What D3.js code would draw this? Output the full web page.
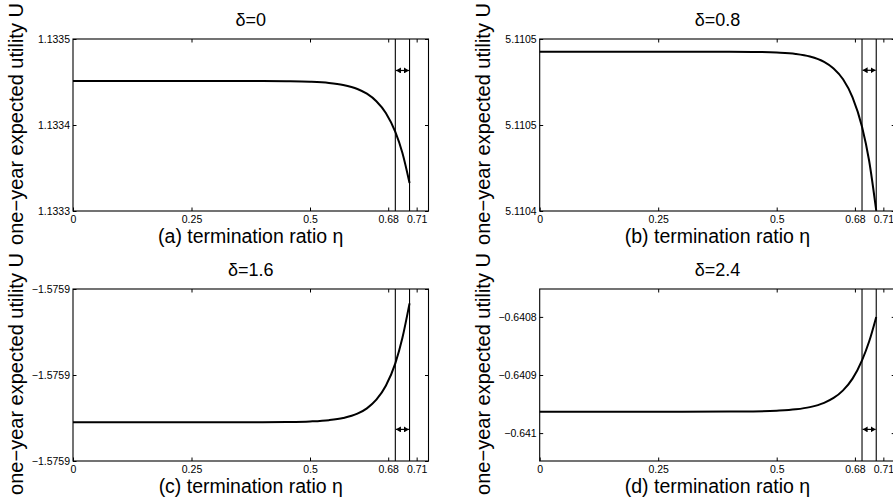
<!DOCTYPE html>
<html>
<head>
<meta charset="utf-8">
<script src="https://cdn.jsdelivr.net/npm/d3@7"></script>
<style>
  body { margin: 0; background: #fff; }
  svg { display: block; font-family: "Liberation Sans", Arial, Helvetica, sans-serif; }
</style>
</head>
<body>
<div id="chart"></div>
<script>
// termination ratio samples (shared by the four panels)
const eta = [0, 0.1, 0.2, 0.3, 0.4, 0.45, 0.5, 0.54, 0.57, 0.6, 0.62, 0.64, 0.66, 0.68, 0.695, 0.71]

// one-year expected utility
const utilityA = [1.1334512, 1.1334512, 1.1334512, 1.1334512, 1.1334511, 1.1334509, 1.1334503, 1.1334489,
    1.1334465, 1.1334419, 1.1334364, 1.1334277, 1.1334140, 1.1333919, 1.1333675, 1.1333326]
const utilityB = [5.1105126, 5.1105126, 5.1105126, 5.1105126, 5.1105126, 5.1105125, 5.1105121, 5.1105113,
    5.1105098, 5.1105067, 5.1105029, 5.1104966, 5.1104861, 5.1104690, 5.1104492, 5.1104202]
const utilityC = [-1.5759220, -1.5759220, -1.5759220, -1.5759220, -1.5759220, -1.5759219, -1.5759216, -1.5759210,
    -1.5759200, -1.5759180, -1.5759155, -1.5759115, -1.5759050, -1.5758946, -1.5758827, -1.5758667]
const utilityD = [-0.6409631, -0.6409631, -0.6409631, -0.6409631, -0.6409629, -0.6409626, -0.6409614, -0.6409591,
    -0.6409553, -0.6409479, -0.6409395, -0.6409264, -0.6409062, -0.6408747, -0.6408424, -0.6408000]

const titles = ["δ=0", "δ=0.8", "δ=1.6", "δ=2.4"]
const captions = ["(a) termination ratio η", "(b) termination ratio η", "(c) termination ratio η", "(d) termination ratio η"]
const yLabelText = "one−year expected utility U"

const xDomain = [0, 0.75]
const xTickValues = [0, 0.25, 0.5, 0.665, 0.725]
const xTickLabels = ["0", "0.25", "0.5", "0.68", "0.71"]
const bandEdges = [0.68, 0.71]

const yDomains = [[1.1333, 1.1335], [5.11042, 5.11052], [-1.57594, -1.57586], [-0.641048, -0.640752]]
const yTickValues = [[1.1333, 1.1334, 1.1335], [5.11042, 5.11047, 5.11052], [-1.57594, -1.5759, -1.57586], [-0.641, -0.6409, -0.6408]]
const yTickLabels = [["1.1333", "1.1334", "1.1335"], ["5.1104", "5.1105", "5.1105"],
    ["−1.5759", "−1.5759", "−1.5759"], ["−0.641", "−0.6409", "−0.6408"]]
const arrowLevels = [1.1334634, 5.1105018, -1.5759253, -0.6409936]

const series = [utilityA, utilityB, utilityC, utilityD]

// layout
const W = 893, H = 502
const plotW = 355.5, plotH = 172
const colX = [73, 539.7], rowY = [39, 289]
const tick = 3.5

const svg = d3.select("#chart").append("svg")
    .attr("width", W)
    .attr("height", H)

svg.append("rect").attr("width", W).attr("height", H).attr("fill", "#fff")

const defs = svg.append("defs")
defs.append("marker")
    .attr("id", "head")
    .attr("viewBox", "0 0 5 6")
    .attr("refX", 5).attr("refY", 3)
    .attr("markerWidth", 5).attr("markerHeight", 6)
    .attr("markerUnits", "userSpaceOnUse")
    .attr("orient", "auto-start-reverse")
    .append("path")
    .attr("d", "M0,0L5,3L0,6Z")
    .attr("fill", "#000")

function panel(i) {
    const left = colX[i % 2], top = rowY[Math.floor(i / 2)]
    const g = svg.append("g").attr("transform", `translate(${left},${top})`)

    const x = d3.scaleLinear().domain(xDomain).range([0, plotW])
    const y = d3.scaleLinear().domain(yDomains[i]).range([plotH, 0])

    const fontAxis = g => g.attr("font-family", null).attr("font-size", 10.5)

    // bottom / top x ticks
    g.append("g")
        .attr("transform", `translate(0,${plotH})`)
        .call(d3.axisBottom(x).tickValues(xTickValues)
            .tickFormat((d, k) => xTickLabels[k])
            .tickSizeInner(-tick).tickSizeOuter(0).tickPadding(5))
        .call(fontAxis)
        .call(a => a.select(".domain").remove())
    g.append("g")
        .call(d3.axisTop(x).tickValues(xTickValues.slice(1)).tickFormat("")
            .tickSizeInner(-tick).tickSizeOuter(0))
        .call(a => a.select(".domain").remove())

    // left / right y ticks
    g.append("g")
        .call(d3.axisLeft(y).tickValues(yTickValues[i])
            .tickFormat((d, k) => yTickLabels[i][k])
            .tickSizeInner(-tick).tickSizeOuter(0).tickPadding(3))
        .call(fontAxis)
        .call(a => a.select(".domain").remove())
    g.append("g")
        .attr("transform", `translate(${plotW},0)`)
        .call(d3.axisRight(y).tickValues(yTickValues[i]).tickFormat("")
            .tickSizeInner(-tick).tickSizeOuter(0))
        .call(a => a.select(".domain").remove())

    g.append("rect")
        .attr("width", plotW).attr("height", plotH)
        .attr("fill", "none").attr("stroke", "#000").attr("stroke-width", 1.1)

    // the two vertical marker lines
    g.selectAll(".edge")
        .data(bandEdges)
        .join("line")
        .attr("class", "edge")
        .attr("x1", d => x(d)).attr("x2", d => x(d))
        .attr("y1", 0).attr("y2", plotH)
        .attr("stroke", "#000").attr("stroke-width", 1.1)

    // double arrow between them
    g.append("line")
        .attr("x1", x(bandEdges[0]) + 0.6).attr("x2", x(bandEdges[1]) - 0.6)
        .attr("y1", y(arrowLevels[i])).attr("y2", y(arrowLevels[i]))
        .attr("stroke", "#000").attr("stroke-width", 1.2)
        .attr("marker-start", "url(#head)").attr("marker-end", "url(#head)")

    const line = d3.line()
        .curve(d3.curveMonotoneX)
        .x((d, k) => x(eta[k]))
        .y(d => y(d))

    g.append("path")
        .datum(series[i])
        .attr("d", line)
        .attr("fill", "none")
        .attr("stroke", "#000")
        .attr("stroke-width", 2)

    g.append("text")
        .attr("x", plotW / 2).attr("y", -13)
        .attr("text-anchor", "middle")
        .attr("font-size", 18)
        .text(titles[i])

    g.append("text")
        .attr("x", plotW / 2).attr("y", plotH + 32)
        .attr("text-anchor", "middle")
        .attr("font-size", 19.5)
        .text(captions[i])

    g.append("text")
        .attr("transform", `translate(-50,${plotH / 2 - 1}) rotate(-90)`)
        .attr("text-anchor", "middle")
        .attr("font-size", 20)
        .text(yLabelText)
}

d3.range(4).forEach(panel)
</script>
</body>
</html>
